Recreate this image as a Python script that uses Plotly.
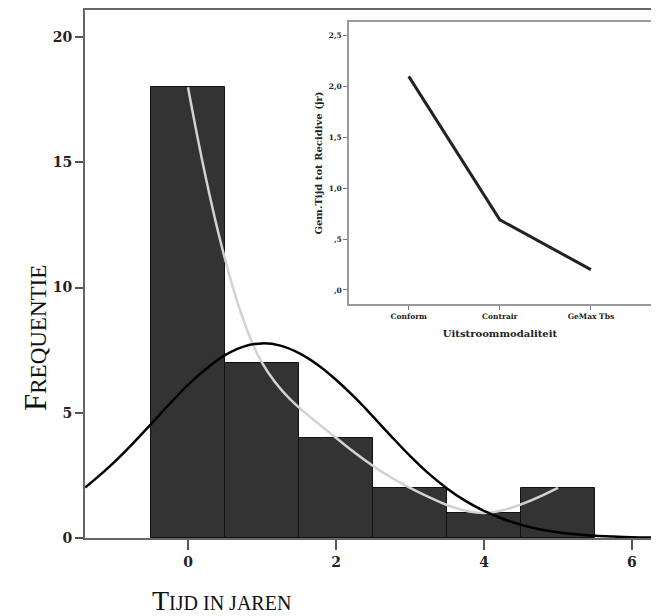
import plotly.graph_objects as go

# ---- main histogram data ----
bin_centers = [0, 1, 2, 3, 4, 5]
frequencies = [18, 7, 4, 2, 1, 2]

# normal-curve overlay, values
normal_x = [-1.39, -1.25, -1.0, -0.75, -0.5, -0.25, 0.0, 0.25, 0.5, 0.75, 1.0,
            1.25, 1.5, 1.75, 2.0, 2.25, 2.5, 2.75, 3.0, 3.25, 3.5, 3.75, 4.0,
            4.25, 4.5, 4.75, 5.0, 5.25, 5.5, 5.75, 6.0, 6.37]
normal_y = [2.02, 2.36, 3.02, 3.76, 4.55, 5.35, 6.11, 6.77, 7.30, 7.64, 7.77,
            7.68, 7.38, 6.92, 6.32, 5.62, 4.85, 4.05, 3.28, 2.58, 1.98, 1.48, 1.08,
            0.77, 0.53, 0.35, 0.23, 0.15, 0.09, 0.055, 0.03, 0.013]

main_xticks = [0, 2, 4, 6]
main_yticks = [0, 5, 10, 15, 20]

# ---- inset data ----
inset_categories = ["Conform", "Contrair", "GeMax Tbs"]
inset_values = [2.1, 0.69, 0.2]
inset_ytickvals = [0, 0.5, 1.0, 1.5, 2.0, 2.5]
inset_yticktext = [",0", ",5", "1,0", "1,5", "2,0", "2,5"]

OFF = 8  # page body margin
W, H = 659 - OFF, 616 - OFF
L, R, T, B = 85 - OFF, 0, 10 - OFF, 616 - 538
pw, ph = W - L - R, H - T - B

def px_x(x):
    return (x - OFF - L) / pw

def px_y(y):
    return (H - B - (y - OFF)) / ph

fig = go.Figure()

fig.add_trace(go.Bar(
    x=bin_centers, y=frequencies, width=1,
    marker=dict(color="#333333", line=dict(color="#111111", width=1)),
    xaxis="x", yaxis="y", showlegend=False,
))
fig.add_trace(go.Scatter(
    x=bin_centers, y=frequencies, mode="lines",
    line=dict(color="#d2d2d2", width=2.5, shape="spline"),
    xaxis="x", yaxis="y", showlegend=False,
))
fig.add_trace(go.Scatter(
    x=normal_x, y=normal_y, mode="lines",
    line=dict(color="#000000", width=2.5, shape="spline"),
    xaxis="x", yaxis="y", showlegend=False,
))
fig.add_trace(go.Scatter(
    x=inset_categories, y=inset_values, mode="lines",
    line=dict(color="#222222", width=3),
    xaxis="x2", yaxis="y2", showlegend=False,
))

tick_font = dict(family="DejaVu Serif", size=14, color="#222222", weight="bold")
inset_tick_font = dict(family="DejaVu Serif", size=7.5, color="#222222", weight="bold")
inset_title_font = dict(family="DejaVu Serif", size=10, color="#222222", weight="bold")

fig.update_layout(
    width=W, height=H,
    margin=dict(l=L, r=R, t=T, b=B, autoexpand=False),
    plot_bgcolor="white", paper_bgcolor="white",
    bargap=0,
    xaxis=dict(
        range=[-1.392, 6.365], tickvals=main_xticks, ticks="outside", ticklen=10,
        tickcolor="#555555", tickwidth=2,
        showline=True, linecolor="#666666", linewidth=2, mirror=True,
        showgrid=False, zeroline=False, tickfont=tick_font,
    ),
    yaxis=dict(
        range=[0, 21.08], tickvals=main_yticks, ticks="outside", ticklen=8,
        tickcolor="#555555", tickwidth=2,
        showline=True, linecolor="#666666", linewidth=2, mirror=False,
        showgrid=False, zeroline=False, tickfont=tick_font,
    ),
    xaxis2=dict(
        domain=[px_x(349), px_x(651)], anchor="y2",
        range=[-0.656, 2.66], ticks="outside", ticklen=4, tickcolor="#777777",
        showline=True, linecolor="#999999", linewidth=1.5, mirror=True,
        showgrid=False, zeroline=False, tickfont=inset_tick_font,
        title=dict(text="Uitstroommodaliteit", font=inset_title_font, standoff=10),
    ),
    yaxis2=dict(
        domain=[px_y(304), px_y(22)], anchor="x2",
        range=[-0.138, 2.635], tickvals=inset_ytickvals, ticktext=inset_yticktext,
        ticks="outside", ticklen=4, tickcolor="#777777",
        showline=True, linecolor="#999999", linewidth=1.5, mirror=True,
        showgrid=False, zeroline=False, tickfont=inset_tick_font,
        title=dict(text="Gem.Tijd tot Recidive (jr)", font=inset_title_font, standoff=4),
    ),
    annotations=[
        dict(
            text="T<span style='font-size:20px'>IJD IN JAREN</span>",
            x=px_x(221), y=px_y(600), xref="paper", yref="paper",
            xanchor="center", yanchor="middle", showarrow=False,
            font=dict(family="Liberation Serif", size=28, color="#111111"),
        ),
        dict(
            text="F<span style='font-size:23px'>REQUENTIE</span>",
            x=px_x(35), y=px_y(338), xref="paper", yref="paper",
            xanchor="center", yanchor="middle", showarrow=False, textangle=-90,
            font=dict(family="Liberation Serif", size=31, color="#111111"),
        ),
    ],
)

fig.write_html("out.html")
